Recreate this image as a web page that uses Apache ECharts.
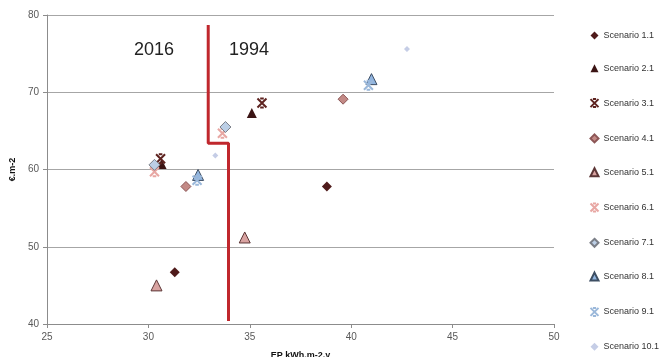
<!DOCTYPE html>
<html><head><meta charset="utf-8">
<script src="https://cdn.jsdelivr.net/npm/echarts@6/dist/echarts.min.js"></script>
<style>html,body{margin:0;padding:0;background:#fff}#c{width:663px;height:357px}</style>
</head><body><div id="c"></div>
<script>
const scenarioNames = ['Scenario 1.1','Scenario 2.1','Scenario 3.1','Scenario 4.1','Scenario 5.1','Scenario 6.1','Scenario 7.1','Scenario 8.1','Scenario 9.1','Scenario 10.1'];
const s1 = [[31.3, 46.7], [38.8, 57.8]];
const s2 = [[30.65, 60.7], [35.1, 67.3]];
const s3 = [[30.6, 61.4], [35.6, 68.6]];
const s4 = [[31.85, 57.8], [39.6, 69.1]];
const s5 = [[30.4, 45.0], [34.75, 51.2]];
const s6 = [[30.3, 59.7], [33.65, 64.7]];
const s7 = [[30.3, 60.6], [33.8, 65.5]];
const s8 = [[32.45, 59.3], [41.0, 71.7]];
const s9 = [[32.4, 58.6], [40.85, 70.9]];
const s10 = [[33.3, 61.8], [42.75, 75.6]];
const boundaryX = [32.95, 32.95, 33.95, 33.95];
const boundaryY = [78.7, 63.4, 63.4, 40.4];
const xTicks = [25, 30, 35, 40, 45, 50];
const yTicks = [40, 50, 60, 70, 80];
const annotations = ['2016', '1994'];

const xPath = 'path://M3,0 L7,0 M3,10 L7,10 M0,0 L10,10 M10,0 L0,10';
const seriesData = [s1,s2,s3,s4,s5,s6,s7,s8,s9,s10];
const styles = [
  {symbol:'diamond', size:10, color:'#4f1b1b', border:'#4f1b1b', bw:0},
  {symbol:'triangle', size:10, color:'#3b1414', border:'#3b1414', bw:0},
  {symbol:xPath, size:9, color:'none', border:'#5e2320', bw:2},
  {symbol:'diamond', size:10, color:'#c38a86', border:'#8c5656', bw:1},
  {symbol:'triangle', size:11, color:'#d9a3a1', border:'#5c3636', bw:1},
  {symbol:xPath, size:9, color:'none', border:'#e8a7a3', bw:2},
  {symbol:'diamond', size:11, color:'#bccfe6', border:'#7b7f88', bw:1},
  {symbol:'triangle', size:11, color:'#91b5e0', border:'#3d4e63', bw:1},
  {symbol:xPath, size:9, color:'none', border:'#9bb8da', bw:2},
  {symbol:'diamond', size:6, color:'#c5cde6', border:'#c5cde6', bw:0}
];

const series = seriesData.map((d, i) => ({
  name: scenarioNames[i], type: 'scatter', data: d,
  symbol: styles[i].symbol, symbolSize: styles[i].size,
  itemStyle: {color: styles[i].color, borderColor: styles[i].border, borderWidth: styles[i].bw, opacity: 1},
  z: 3
}));
series.push({
  name: 'boundary', type: 'line', data: boundaryX.map((x, i) => [x, boundaryY[i]]),
  symbol: 'none', lineStyle: {color: '#c0272d', width: 3}, z: 2, silent: true
});

const chart = echarts.init(document.getElementById('c'), null, {renderer: 'canvas'});
const font = 'Liberation Sans, Arial, sans-serif';
chart.setOption({
  animation: false,
  backgroundColor: '#fff',
  grid: {left: 47, top: 15, right: 109, bottom: 33, containLabel: false, outerBoundsMode: 'none'},
  xAxis: {
    type: 'value', min: xTicks[0], max: xTicks[xTicks.length-1], interval: 5,
    name: 'EP kWh.m-2.y', nameLocation: 'middle', nameGap: 27,
    nameTextStyle: {fontFamily: font, fontSize: 9, fontWeight: 'bold', color: '#111'},
    axisLine: {lineStyle: {color: '#8c8c8c'}},
    axisTick: {show: true, length: 4, lineStyle: {color: '#8c8c8c'}},
    axisLabel: {fontFamily: font, fontSize: 10, color: '#595959', margin: 8},
    splitLine: {show: false}
  },
  yAxis: {
    type: 'value', min: yTicks[0], max: yTicks[yTicks.length-1], interval: 10,
    name: '€.m-2', nameLocation: 'middle', nameGap: 28,
    nameTextStyle: {fontFamily: font, fontSize: 9, fontWeight: 'bold', color: '#111'},
    axisLine: {show: true, lineStyle: {color: '#8c8c8c'}},
    axisTick: {show: true, length: 4, lineStyle: {color: '#8c8c8c'}},
    axisLabel: {fontFamily: font, fontSize: 10, color: '#595959', margin: 8},
    splitLine: {show: true, lineStyle: {color: '#a6a6a6', width: 1}}
  },
  legend: {
    data: scenarioNames, orient: 'vertical', left: 583, top: 26,
    itemWidth: 8, itemHeight: 8, itemGap: 23.8,
    textStyle: {fontFamily: font, fontSize: 9, color: '#333'}
  },
  graphic: [
    {type: 'text', left: 134, top: 41, style: {text: annotations[0], font: '18px ' + font, fill: '#222'}},
    {type: 'text', left: 229, top: 41, style: {text: annotations[1], font: '18px ' + font, fill: '#222'}}
  ],
  series: series
});
</script></body></html>
